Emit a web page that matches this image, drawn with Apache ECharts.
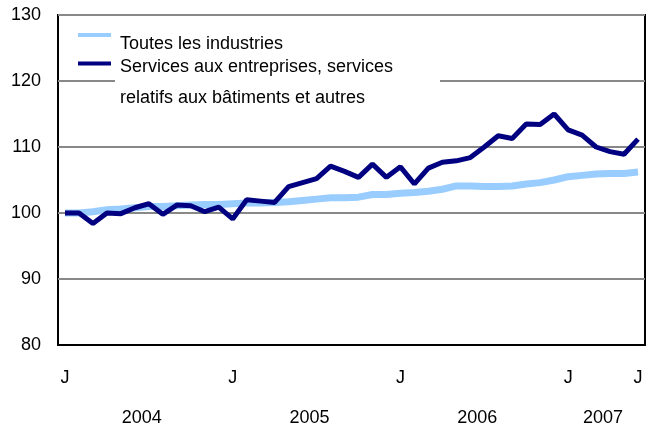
<!DOCTYPE html>
<html>
<head>
<meta charset="utf-8">
<script src="https://cdn.jsdelivr.net/npm/echarts@6/dist/echarts.min.js"></script>
<style>
  html, body { margin: 0; padding: 0; background: #fff; }
  #chart { width: 647px; height: 433px; }
</style>
</head>
<body>
<div id="chart"></div>
<script>
// mois de janvier 2004 a juin 2007
const months = [
  'J','F','M','A','M','J','J','A','S','O','N','D',
  'J','F','M','A','M','J','J','A','S','O','N','D',
  'J','F','M','A','M','J','J','A','S','O','N','D',
  'J','F','M','A','M','J'
];
const labelIdx = [0, 12, 24, 36, 41];
const years = ['2004', '2005', '2006', '2007'];
const monthsPerYear = [12, 12, 12, 6];

const nameAll = 'Toutes les industries';
const nameServ = 'Services aux entreprises, services\nrelatifs aux bâtiments et autres';

const allInd = [
  100.0, 100.0, 100.2, 100.5, 100.6, 100.8, 101.0, 101.0, 101.1, 101.2, 101.3, 101.3,
  101.4, 101.5, 101.5, 101.6, 101.7, 101.9, 102.1, 102.3, 102.3, 102.4, 102.8, 102.8,
  103.0, 103.1, 103.3, 103.6, 104.1, 104.1, 104.0, 104.0, 104.1, 104.4, 104.6, 105.0,
  105.5, 105.7, 105.9, 106.0, 106.0, 106.2
];
const services = [
  100.0, 100.0, 98.4, 100.0, 99.9, 100.8, 101.4, 99.8, 101.2, 101.1, 100.2, 100.9,
  99.1, 102.0, 101.8, 101.6, 104.0, 104.6, 105.2, 107.1, 106.3, 105.4, 107.4, 105.4,
  107.0, 104.4, 106.8, 107.7, 107.9, 108.4, 110.0, 111.7, 111.3, 113.5, 113.4, 115.0,
  112.6, 111.8, 110.0, 109.3, 108.9, 111.2
];

// milieu de chaque annee sur l'axe des mois
const yearCenters = [];
let start = 0;
monthsPerYear.forEach(n => { yearCenters.push(start + (n - 1) / 2); start += n; });

const font = 'Liberation Sans, Arial, sans-serif';

// texte de legende: une ligne vide en haut pour decaler le texte sous la pastille
const legendText = (gap, lh) => ({
  fontFamily: font, fontSize: 18, color: '#000', padding: [0, 0, 0, 4],
  rich: {
    g: { height: gap, lineHeight: gap },
    t: { fontFamily: font, fontSize: 18, color: '#000', lineHeight: lh }
  }
});
const legendFmt = (name) => '{g|}\n' + name.split('\n').map(s => '{t|' + s + '}').join('\n');

let myChart = echarts.init(document.getElementById('chart'), null, { renderer: 'canvas' });

let option = {
  animation: false,
  backgroundColor: '#fff',
  textStyle: { fontFamily: font },
  grid: {
    left: 58, top: 15, right: 2, bottom: 88,
    show: true, borderColor: '#000', borderWidth: 2, backgroundColor: '#fff'
  },
  legend: [
    {
      left: 78, top: 15, padding: 0,
      icon: 'rect', itemWidth: 33, itemHeight: 4,
      data: [nameAll],
      formatter: legendFmt,
      textStyle: legendText(18, 22)
    },
    {
      left: 78, top: 13, padding: 0,
      icon: 'rect', itemWidth: 33, itemHeight: 4,
      data: [nameServ],
      formatter: legendFmt,
      textStyle: legendText(39, 31)
    }
  ],
  graphic: [
    { type: 'rect', left: 115, top: 72, z: 1, shape: { width: 325, height: 32 }, style: { fill: '#fff' } }
  ],
  xAxis: [
    {
      type: 'category',
      data: months,
      boundaryGap: true,
      axisLine: { lineStyle: { color: '#000', width: 2 } },
      axisTick: { inside: true, length: 4, interval: 0, lineStyle: { color: '#000', width: 1.5 } },
      axisLabel: {
        interval: (i) => labelIdx.includes(i),
        margin: 24, fontSize: 18, color: '#000', fontFamily: font
      },
      splitLine: { show: false }
    },
    {
      type: 'value',
      position: 'bottom',
      min: -0.5, max: months.length - 0.5,
      axisLine: { show: false },
      axisTick: { show: false },
      splitLine: { show: false },
      axisLabel: {
        customValues: yearCenters,
        formatter: (v) => years[yearCenters.indexOf(v)],
        margin: 64, fontSize: 18, color: '#000', fontFamily: font
      }
    }
  ],
  yAxis: {
    type: 'value',
    min: 80, max: 130, interval: 10,
    axisLine: { show: false, onZero: false },
    axisTick: { show: false },
    axisLabel: { margin: 17, fontSize: 18, color: '#000', fontFamily: font },
    splitLine: { lineStyle: { color: '#888', width: 2 } }
  },
  series: [
    {
      name: nameAll, type: 'line', data: allInd,
      showSymbol: false, color: '#99ccff',
      lineStyle: { width: 7, color: '#99ccff' }
    },
    {
      name: nameServ, type: 'line', data: services,
      showSymbol: false, color: '#000080',
      lineStyle: { width: 5, color: '#000080' }
    }
  ]
};

myChart.setOption(option);
window.addEventListener('resize', function () {
  myChart.resize();
});
</script>
</body>
</html>
